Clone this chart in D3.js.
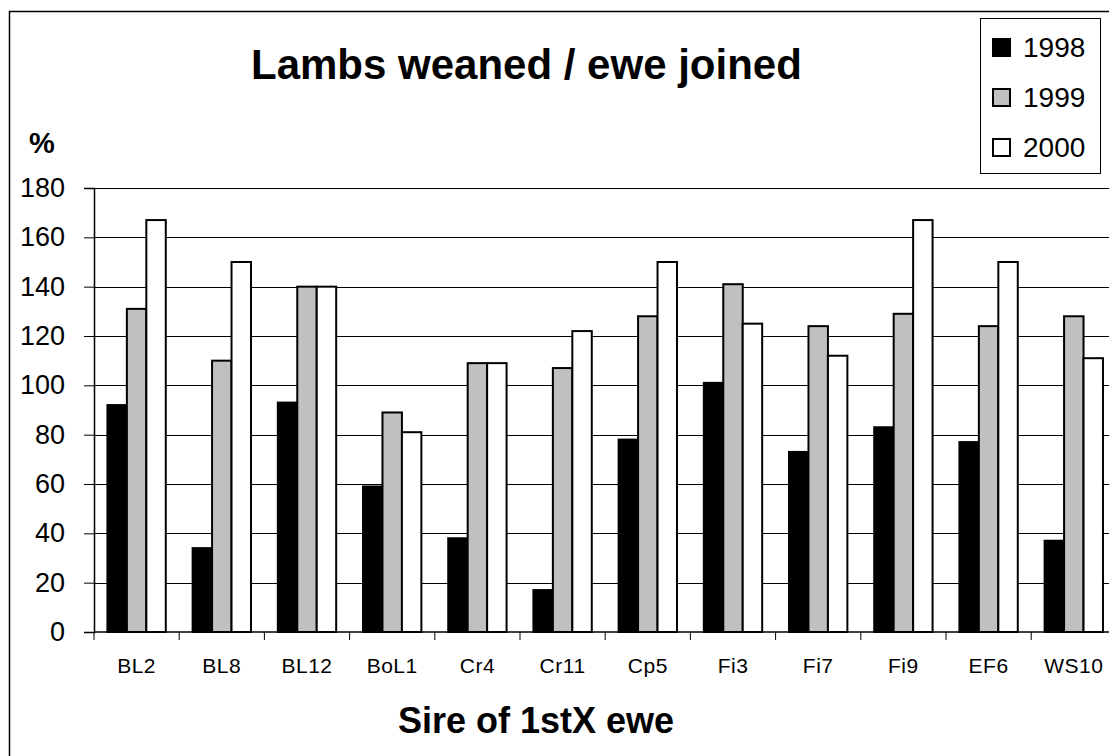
<!DOCTYPE html>
<html>
<head>
<meta charset="utf-8">
<script src="https://cdn.jsdelivr.net/npm/d3@7"></script>
<style>
  body { margin: 0; background: #fff; }
  svg { display: block; font-family: "Liberation Sans", Arial, sans-serif; }
</style>
</head>
<body>
<div id="chart"></div>
<script>
const categories = ["BL2", "BL8", "BL12", "BoL1", "Cr4", "Cr11", "Cp5", "Fi3", "Fi7", "Fi9", "EF6", "WS10"];
const years = ["1998", "1999", "2000"];
const values1998 = [92, 34, 93, 59, 38, 17, 78, 101, 73, 83, 77, 37];
const values1999 = [131, 110, 140, 89, 109, 107, 128, 141, 124, 129, 124, 128];
const values2000 = [167, 150, 140, 81, 109, 122, 150, 125, 112, 167, 150, 111];
const yTicks = [0, 20, 40, 60, 80, 100, 120, 140, 160, 180];

const series = { "1998": values1998, "1999": values1999, "2000": values2000 };
const colors = { "1998": "#000000", "1999": "#c0c0c0", "2000": "#ffffff" };

const W = 1109, H = 756;
const plot = { left: 94, top: 188, bottom: 632, step: 85.2 };

const svg = d3.select("#chart")
  .append("svg")
  .attr("width", W)
  .attr("height", H);

// chart area border (cropped on the right and bottom)
svg.append("rect")
  .attr("x", 9.5).attr("y", 11.5)
  .attr("width", 1200).attr("height", 900)
  .attr("fill", "none").attr("stroke", "#000").attr("stroke-width", 1.5);

const x0 = d3.scaleBand()
  .domain(categories)
  .range([plot.left, plot.left + plot.step * categories.length])
  .padding(0);

const x1 = d3.scaleBand()
  .domain(years)
  .range([0, x0.bandwidth()])
  .paddingInner(0)
  .paddingOuter(0.69);

const y = d3.scaleLinear()
  .domain([0, 180])
  .range([plot.bottom, plot.top]);

// gridlines
svg.append("g")
  .selectAll("line")
  .data(yTicks.filter(d => d > 0))
  .join("line")
  .attr("x1", plot.left).attr("x2", W)
  .attr("y1", d => Math.round(y(d)) + 0.5).attr("y2", d => Math.round(y(d)) + 0.5)
  .attr("stroke", "#000").attr("stroke-width", 1);

// bars
const groups = svg.append("g")
  .selectAll("g")
  .data(categories)
  .join("g")
  .attr("transform", d => `translate(${x0(d)},0)`);

groups.selectAll("rect")
  .data((c, i) => years.map(yr => ({ yr, v: series[yr][i] })))
  .join("rect")
  .attr("x", d => x1(d.yr))
  .attr("y", d => y(d.v))
  .attr("width", x1.bandwidth())
  .attr("height", d => y(0) - y(d.v))
  .attr("fill", d => colors[d.yr])
  .attr("stroke", "#000")
  .attr("stroke-width", 2);

// y axis
const yAxis = svg.append("g")
  .attr("transform", `translate(${plot.left},0)`)
  .call(d3.axisLeft(y).tickValues(yTicks).tickSize(10).tickPadding(19));
yAxis.select(".domain").attr("stroke", "#000").attr("stroke-width", 1.5);
yAxis.selectAll(".tick line").attr("stroke", "#000");
yAxis.selectAll(".tick text")
  .attr("font-size", 27)
  .attr("font-family", "Liberation Sans, Arial, sans-serif")
  .attr("fill", "#000");

// x axis
const xAxis = svg.append("g")
  .attr("transform", `translate(0,${plot.bottom})`);
xAxis.append("line")
  .attr("x1", plot.left).attr("x2", W)
  .attr("stroke", "#000").attr("stroke-width", 1.5);
xAxis.selectAll(".tk")
  .data(categories)
  .join("line")
  .attr("class", "tk")
  .attr("x1", d => x0(d)).attr("x2", d => x0(d))
  .attr("y1", 0).attr("y2", 8)
  .attr("stroke", "#000");
xAxis.selectAll("text")
  .data(categories)
  .join("text")
  .attr("x", d => x0(d) + x0.bandwidth() / 2)
  .attr("y", 41)
  .attr("text-anchor", "middle")
  .attr("font-size", 21)
  .attr("letter-spacing", 0.5)
  .text(d => d);

// titles
svg.append("text")
  .attr("x", 251).attr("y", 79)
  .attr("font-size", 42).attr("font-weight", "bold")
  .text("Lambs weaned / ewe joined");

svg.append("text")
  .attr("x", 29).attr("y", 153)
  .attr("font-size", 29).attr("font-weight", "bold")
  .text("%");

svg.append("text")
  .attr("x", 536).attr("y", 733)
  .attr("text-anchor", "middle")
  .attr("font-size", 36).attr("font-weight", "bold")
  .text("Sire of 1stX ewe");

// legend
const legend = svg.append("g");
legend.append("rect")
  .attr("x", 980.5).attr("y", 18.5)
  .attr("width", 120).attr("height", 155)
  .attr("fill", "#fff").attr("stroke", "#000").attr("stroke-width", 1);

const items = legend.selectAll("g.item")
  .data(years)
  .join("g")
  .attr("class", "item")
  .attr("transform", (d, i) => `translate(0,${57 + i * 50})`);

items.append("rect")
  .attr("x", 993).attr("y", -18)
  .attr("width", 17).attr("height", 17)
  .attr("fill", d => colors[d])
  .attr("stroke", "#000").attr("stroke-width", 2);

items.append("text")
  .attr("x", 1023).attr("y", 0)
  .attr("font-size", 28)
  .text(d => d);
</script>
</body>
</html>
